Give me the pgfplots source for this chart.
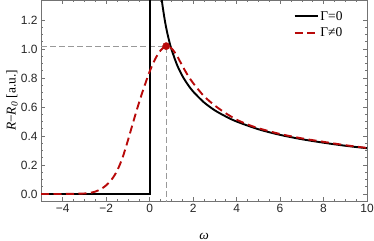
\documentclass[border=0pt]{standalone}
\usepackage{pgfplots}
\pgfplotsset{compat=1.18}
\usepackage{fontspec}
\setmainfont{Liberation Serif}
\newfontfamily\tickfont{Liberation Sans}
\definecolor{dred}{rgb}{0.72,0.04,0.04}
\definecolor{framegray}{gray}{0.45}
\begin{document}
\begin{tikzpicture}
\begin{axis}[
  name=ax, scale only axis, width=326bp, height=201bp,
  xmin=-5, xmax=10, ymin=-0.048, ymax=1.338,
  xtick={-4,-2,0,2,4,6,8,10},
  xticklabels={−4,−2,0,2,4,6,8,10},
  ytick={0,0.2,0.4,0.6,0.8,1.0,1.2},
  yticklabels={0.0,0.2,0.4,0.6,0.8,1.0,1.2},
  minor x tick num=3, minor y tick num=3,
  tick align=inside,
  major tick length=4bp, minor tick length=2.2bp,
  axis line style={framegray, line width=0.7bp},
  every tick/.style={framegray, line width=0.6bp},
  tick label style={font=\tickfont\fontsize{12}{14}\selectfont, text=black!85},
  xlabel={\itshape ω},
  ylabel={{\itshape R}−{\itshape R}\textsubscript{\itshape 0} [a.u.]},
  label style={font=\fontsize{13.5}{15}\selectfont},
  xlabel style={at={(axis description cs:0.5,-0.174)}, anchor=center},
  ylabel style={at={(axis description cs:-0.089,0.5)}, anchor=center},
  legend style={at={(0.765,0.965)}, anchor=north west, draw=none, fill=none,
    font=\fontsize{13.5}{15}\selectfont, row sep=2bp},
  legend cell align=left,
  legend image code/.code={\draw[#1] (0bp,0bp) -- (23bp,0bp);},
]
\addplot[gray!80, line width=1.1bp, dash pattern=on 6bp off 3bp, forget plot]
  coordinates {(-5,1.02) (0.76,1.02) (0.76,-0.1)};
\addplot[black, line width=1.9bp] coordinates {(-5,0) (0,0) (0,1.5)};
\addlegendentry{Γ=0}
\addplot[black, line width=1.9bp, smooth, forget plot] coordinates {
 (0.45,1.491) (0.5,1.414) (0.55,1.348) (0.6,1.291) (0.7,1.195) (0.8,1.118)
 (0.9,1.054) (1,1) (1.25,0.894) (1.5,0.816) (1.75,0.756) (2,0.707)
 (2.5,0.632) (3,0.577) (3.5,0.535) (4,0.5) (5,0.447) (6,0.408)
 (7,0.378) (8,0.354) (9,0.333) (10,0.316)};
\addplot[dred, line width=1.9bp, dash pattern=on 8bp off 4.5bp, smooth] coordinates {
 (-5,0) (-4.5,0) (-4,0.0005) (-3.5,0.0015) (-3,0.004) (-2.75,0.008)
 (-2.5,0.017) (-2.25,0.034) (-2,0.06) (-1.75,0.10) (-1.5,0.16)
 (-1.25,0.25) (-1,0.37) (-0.75,0.50) (-0.5,0.625) (-0.25,0.74)
 (0,0.845) (0.25,0.93) (0.5,0.99) (0.75,1.02) (1,1.005) (1.25,0.955)
 (1.5,0.885) (1.75,0.82) (2,0.765) (2.5,0.675) (3,0.61) (3.5,0.557)
 (4,0.513) (4.5,0.48) (5,0.454) (6,0.414) (7,0.384) (8,0.36)
 (9,0.337) (10,0.318)};
\addlegendentry{Γ≠0}
\addplot[only marks, mark=*, dred, mark size=3.6bp, forget plot]
  coordinates {(0.76,1.02)};
\end{axis}
\pgfresetboundingbox
\useasboundingbox ([xshift=-41bp,yshift=-40bp]ax.south west) rectangle ([xshift=7bp]ax.north east);
\end{tikzpicture}
\end{document}
